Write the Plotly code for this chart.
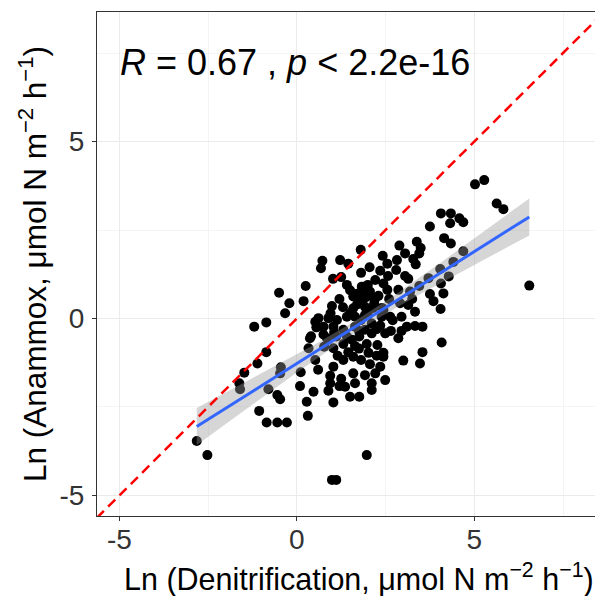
import numpy as np
import plotly.graph_objects as go

# Ln(Denitrification) values (x) and Ln(Anammox) values (y)
denitrification = [
    -2.82, -2.52, -1.48, -1.62, -1.60, -0.80, -0.47, -0.55, -0.47, -1.06, -0.85, -0.55, -0.28,
    0.09, 0.28, 0.31, 0.25, -0.50, 0.19, -0.21, -0.33, -0.86, -1.20, 0.37, 0.33, -0.86, -1.11,
    -0.45, 0.11,
    1.80, 0.72, 0.68, 1.22, 1.81, 2.35, 2.42, 2.82, 3.05, 2.89, 3.38, 3.49, 3.45, 3.28, 3.35,
    2.80, 2.57, 2.21, 3.14, 3.75, 1.02, 1.25,
    5.02, 5.28, 5.63, 5.82, 4.06, 4.34, 4.32, 4.58, 4.69, 4.15, 4.34, 4.69, 4.41, 4.04, 4.28,
    3.71, 4.06, 4.13, 3.75, 3.85, 4.05, 3.54, 4.08, 3.54, 3.47, 6.55,
    1.41, 1.83, 1.83, 2.06, 2.44, 2.55, 2.86, 2.30, 1.83, 1.59, 3.19, 3.45, 0.99, 1.30, 1.59,
    1.92, 2.18, 2.44, 2.91, 3.14, 3.33, 2.63, 2.39, 0.61, 0.89, 1.13, 1.41, 1.64, 1.92, 2.11,
    1.92, 1.64, 1.31, 1.03, 0.75, 0.52, 3.10, 3.33, 2.49, 2.11, 1.76, 1.41, 1.11, 0.85,
    2.86, 2.27, 1.97, 1.64, 1.31, 1.03, 0.77,
    3.00, 2.44, 2.44, 2.02, 1.59, 1.81, 2.06, 2.35, 1.31, 1.03, 0.52,
    1.59, 1.92, 2.21, 2.49, 0.94, 0.94, 1.36, 1.64, 2.11, 2.11, 0.89, 0.47, 1.50, 1.76,
    1.20, 1.03, 1.97, 0.99, 1.11, 1.83, 2.02,
    1.50, 1.70, 2.00, 2.20, 1.70, 2.00, 1.80, 2.25, 1.50, 1.75, 2.15, 1.55, 2.40, 1.95, 2.60,
    1.20, 1.05, 2.35, 2.70, 2.95, 1.45, 1.75, 2.25, 1.15, 0.75, 0.95, 2.55, 2.05, 1.45, 3.05,
    2.95, 3.25, 0.60, 1.25, 2.65, 0.40, 0.55,
]
anammox = [
    -3.46, -3.86, -1.53, -1.83, -2.00, -2.00, -1.55, -2.16, -2.28, -2.61, -2.94, -2.94, -2.94,
    -1.91, -2.35, -2.75, 0.92, 0.73, 0.49, 0.43, 0.15, -0.11, -0.23, -0.56, -0.84, -0.95, -1.27,
    -1.38, -1.52,
    1.94, 1.63, 1.42, 1.65, 1.29, 1.35, 1.77, 1.65, 1.84, 2.06, 2.17, 1.99, 1.84, 1.68, 1.53,
    1.37, 1.20, 1.09, 1.12, 2.60, 1.12, 1.17,
    3.79, 3.91, 3.25, 3.09, 2.97, 2.97, 2.69, 2.83, 2.72, 2.27, 2.12, 1.90, 1.60, 1.40, 1.19,
    1.14, 0.99, 0.71, 0.69, 0.49, 0.27, -0.23, -0.68, -0.95, -1.27, 0.93,
    0.95, 0.90, 0.76, 0.76, 0.99, 0.81, 0.81, 0.64, 0.57, 0.62, 0.76, 0.92, 0.35, 0.32, 0.29,
    0.33, 0.43, 0.24, 0.43, 0.38, 0.19, 0.05, 0.05, 0.01, 0.01, -0.04, 0.05, 0.05, 0.10, -0.14,
    -0.32, -0.23, -0.32, -0.23, -0.23, -0.09, -0.23, -0.21, -0.42, -0.42, -0.51, -0.51, -0.51, -0.56,
    -0.56, -0.75, -0.72, -0.78, -0.72, -0.84, -0.80,
    -1.19, -0.97, -1.08, -0.97, -1.08, -1.17, -1.29, -1.36, -1.17, -1.36, -1.17,
    -1.55, -1.60, -1.55, -1.74, -1.62, -1.83, -1.93, -1.83, -1.83, -2.02, -2.04, -2.07, -2.21, -2.21,
    -1.91, -2.37, -3.86, -4.56, -4.56, 0.47, 0.24,
    0.80, 0.70, 0.95, 0.55, 0.40, 0.10, -0.05, -0.30, 0.15, -0.35, 0.30, -0.60, 0.30, 0.60, 0.55,
    0.55, -0.40, -0.20, -0.05, 0.05, -0.95, -0.85, -1.05, -1.05, -0.45, 0.15, 1.55, 1.45, 1.55, 1.20,
    -0.35, 0.55, -1.45, -1.70, -0.35, -0.50, -0.25,
]

tick_values = [-5, 0, 5]
tick_labels = ["-5", "0", "5"]
minor_tick_values = [-2.5, 2.5, 7.5]
x_range = [-5.63, 8.57]
y_range = [-5.58, 8.66]
stat_label = "<i>R</i> = 0.67 , <i>p</i> &lt; 2.2e-16"
x_title = "Ln (Denitrification, μmol N m<sup>−2</sup> h<sup>−1</sup>)"
y_title = "Ln (Anammox, μmol N m<sup>−2</sup> h<sup>−1</sup>)"

x = np.array(denitrification)
y = np.array(anammox)

# linear model with 95% confidence band (like geom_smooth(method = "lm"))
slope, intercept = np.polyfit(x, y, 1)
n = len(x)
xs = np.linspace(x.min(), x.max(), 100)
ys = intercept + slope * xs
resid = y - (intercept + slope * x)
s = np.sqrt(np.sum(resid ** 2) / (n - 2))
sxx = np.sum((x - x.mean()) ** 2)
se = s * np.sqrt(1.0 / n + (xs - x.mean()) ** 2 / sxx)
tcrit = 1.97
upper = ys + tcrit * se
lower = ys - tcrit * se

FONT = "Liberation Sans, Arial"

fig = go.Figure()
fig.add_trace(go.Scatter(x=x, y=y, mode="markers",
                         marker=dict(color="black", size=10), showlegend=False))
fig.add_trace(go.Scatter(x=np.concatenate([xs, xs[::-1]]), y=np.concatenate([upper, lower[::-1]]),
                         fill="toself", fillcolor="rgba(153,153,153,0.4)",
                         line=dict(width=0), mode="lines", showlegend=False, hoverinfo="skip"))
fig.add_trace(go.Scatter(x=xs, y=ys, mode="lines", line=dict(color="#3366FF", width=3),
                         showlegend=False))
fig.add_trace(go.Scatter(x=[-20, 20], y=[-20, 20], mode="lines",
                         line=dict(color="red", width=2.5, dash="10px,6px"), showlegend=False))

fig.add_annotation(x=-5.05, y=7.22, xref="x", yref="y", text=stat_label, showarrow=False,
                   xanchor="left", yanchor="middle",
                   font=dict(family=FONT, size=36, color="black"))
# x-axis title (placed as text so it can sit where the reference has it)
fig.add_annotation(x=0.52, y=-0.123, xref="paper", yref="paper", text=x_title, showarrow=False,
                   xanchor="center", yanchor="middle",
                   font=dict(family=FONT, size=30.5, color="black"))

axis_common = dict(
    tickvals=tick_values, ticktext=tick_labels, showgrid=True, gridcolor="#ebebeb", gridwidth=1.2,
    minor=dict(tickvals=minor_tick_values, showgrid=True, gridcolor="#f4f4f4", gridwidth=0.8),
    zeroline=False, ticks="outside", ticklen=4, tickcolor="#333333", tickwidth=1,
    tickfont=dict(family=FONT, size=28, color="#333333"),
    showline=True, mirror=True, linecolor="#333333", linewidth=1, automargin=False,
)
fig.update_xaxes(range=x_range, **axis_common, ticklabelstandoff=-6)
fig.update_yaxes(range=y_range, **axis_common, ticklabelstandoff=2,
                 title=dict(text=y_title, standoff=3,
                            font=dict(family=FONT, size=31.5, color="black")))

# the page body adds an 8 px offset, so the figure is sized to fit the window after it
fig.update_layout(width=595, height=588, margin=dict(l=89, r=2, t=4, b=80),
                  plot_bgcolor="white", paper_bgcolor="white")

fig.write_html("out.html")
